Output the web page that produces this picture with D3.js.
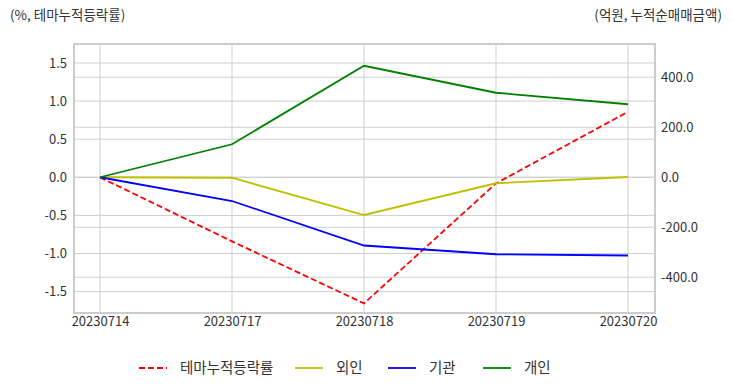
<!DOCTYPE html>
<html>
<head>
<meta charset="utf-8">
<script src="https://cdn.jsdelivr.net/npm/d3@7"></script>
<style>
  body { margin: 0; background: #fff; }
  svg text { font-family: "Noto Sans CJK KR", "Noto Sans", sans-serif; fill: #333; }
</style>
</head>
<body>
<div id="chart"></div>
<script>
// data
const dates = ['20230714', '20230717', '20230718', '20230719', '20230720'];
const themeRate = [0, -0.84, -1.654, -0.08, 0.86];   // left axis, %
const foreign = [0, -2, -151, -24, 1];               // right axis, 억원
const institution = [0, -95, -273, -308, -313];
const individual = [0, 132, 446, 338, 292];

const leftTicks = [-1.5, -1.0, -0.5, 0.0, 0.5, 1.0, 1.5];
const rightTicks = [-400, -200, 0, 200, 400];

const width = 732, height = 392;
const frame = { left: 74, right: 655, top: 44, bottom: 313 };

const svg = d3.select('#chart').append('svg')
    .attr('width', width)
    .attr('height', height);

// x: point positions with matplotlib-like 5% padding
const x = d3.scalePoint()
    .domain(dates)
    .range([100, 628]);

const yL = d3.scaleLinear()
    .domain([-1.78, 1.749])
    .range([frame.bottom, frame.top]);

const yR = d3.scaleLinear()
    .domain([-543, 533])
    .range([frame.bottom, frame.top]);

const gridColor = '#cfcfcf';

// plain hyphen minus like the reference
const fmt = d => d3.format('.1f')(d).replace('\u2212', '-');

// grid lines - both y axes draw their own
const grid = svg.append('g').attr('class', 'grid');
grid.selectAll('line.gl')
    .data(leftTicks)
    .enter().append('line')
    .attr('x1', frame.left).attr('x2', frame.right)
    .attr('y1', d => yL(d)).attr('y2', d => yL(d))
    .attr('stroke', gridColor).attr('stroke-width', 1);
grid.selectAll('line.gr')
    .data(rightTicks)
    .enter().append('line')
    .attr('x1', frame.left).attr('x2', frame.right)
    .attr('y1', d => yR(d)).attr('y2', d => yR(d))
    .attr('stroke', gridColor).attr('stroke-width', 1);
grid.selectAll('line.gx')
    .data(dates)
    .enter().append('line')
    .attr('x1', d => x(d)).attr('x2', d => x(d))
    .attr('y1', frame.top).attr('y2', frame.bottom)
    .attr('stroke', gridColor).attr('stroke-width', 1);

// frame
svg.append('rect')
    .attr('x', frame.left).attr('y', frame.top)
    .attr('width', frame.right - frame.left)
    .attr('height', frame.bottom - frame.top)
    .attr('fill', 'none')
    .attr('stroke', '#cccccc')
    .attr('stroke-width', 2);

// axes (labels only, no tick marks)
const axisLeft = d3.axisLeft(yL).tickValues(leftTicks).tickFormat(fmt).tickSize(0).tickPadding(7);
const axisRight = d3.axisRight(yR).tickValues(rightTicks).tickFormat(fmt).tickSize(0).tickPadding(6);
const axisBottom = d3.axisBottom(x).tickSize(0).tickPadding(4);

function styleAxis(g) {
    g.select('.domain').remove();
    g.selectAll('text').style('font-size', '13px').attr('fill', '#333');
}

svg.append('g').attr('transform', `translate(${frame.left},0)`).call(axisLeft).call(styleAxis);
svg.append('g').attr('transform', `translate(${frame.right},0)`).call(axisRight).call(styleAxis);
svg.append('g').attr('transform', `translate(0,${frame.bottom})`).call(axisBottom).call(styleAxis);

// unit labels
svg.append('text').attr('x', 10).attr('y', 20).style('font-size', '13.5px').text('(%, 테마누적등락률)');
svg.append('text').attr('x', 722).attr('y', 20).attr('text-anchor', 'end').style('font-size', '13.5px').text('(억원, 누적순매매금액)');

// lines
const series = [
    { name: '테마누적등락률', values: themeRate, scale: yL, color: '#ff0000', dash: '6,3' },
    { name: '외인', values: foreign, scale: yR, color: '#bfbf00', dash: null },
    { name: '기관', values: institution, scale: yR, color: '#0000ff', dash: null },
    { name: '개인', values: individual, scale: yR, color: '#008000', dash: null }
];

series.forEach(s => {
    const line = d3.line()
        .x((d, i) => x(dates[i]))
        .y(d => s.scale(d));
    svg.append('path')
        .datum(s.values)
        .attr('d', line)
        .attr('fill', 'none')
        .attr('stroke', s.color)
        .attr('stroke-width', 1.8)
        .attr('stroke-dasharray', s.dash);
});

// legend
const legendX = [139, 295, 388, 483];
const legend = svg.append('g').attr('class', 'legend');
series.forEach((s, i) => {
    const g = legend.append('g').attr('transform', `translate(${legendX[i]},368)`);
    g.append('line')
        .attr('x1', 0).attr('x2', 28)
        .attr('y1', 0).attr('y2', 0)
        .attr('stroke', s.color)
        .attr('stroke-width', 1.8)
        .attr('stroke-dasharray', s.dash);
    g.append('text')
        .attr('x', 41).attr('y', 0)
        .attr('dy', '0.35em')
        .style('font-size', '14.5px')
        .text(s.name);
});
</script>
</body>
</html>
